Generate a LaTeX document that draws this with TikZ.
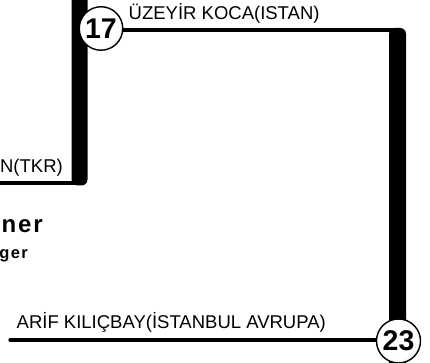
\documentclass[tikz,border=0pt]{standalone}
\usepackage{fontspec}
\setmainfont{Liberation Sans}
\pgfdeclareradialshading{btnshade}{\pgfpoint{-9bp}{9bp}}{color(0bp)=(white); color(26bp)=(white); color(46bp)=(gray!55); color(64bp)=(gray!85)}
\begin{document}
\begin{tikzpicture}[x=1pt,y=-1pt,
  thinline/.style={line width=3.3pt, line cap=round},
  barfill/.style={fill=black, rounded corners=6pt},
  ball/.style={circle, draw=black, line width=1.4pt, shading=btnshade,
    inner sep=0pt, font=\fontsize{28.5}{28.5}\selectfont\bfseries},
  lbl/.style={inner sep=0pt, font=\fontsize{18.5}{20}\selectfont},
  bigbold/.style={inner sep=0pt, font=\fontsize{24}{26}\selectfont\bfseries\addfontfeatures{LetterSpace=8}},
  smallbold/.style={inner sep=0pt, font=\fontsize{16.5}{18}\selectfont\bfseries\addfontfeatures{LetterSpace=8}}]
\useasboundingbox (0,0) rectangle (430,363);
\clip (0,0) rectangle (430,363);
% coordinates
\coordinate (lb) at (79.5,183);
\coordinate (ll) at (-10,183);
\coordinate (rt) at (397.5,30);
\coordinate (bl) at (10,340);
% bars
\fill[barfill] (71.5,-20) -- (71.5,185.5) -- (87.5,185.5) -- (87.5,-20) -- cycle;
\fill[barfill] (389,400) -- (389,28) -- (406,28) -- (406,400) -- cycle;
% circle positions
\path (101,28.5) coordinate (c17pos);
\path (398.5,341) coordinate (c23pos);
% thin lines
\draw[thinline] (ll) -- (lb);
\draw[thinline] (c17pos |- rt) -- (rt);
\draw[thinline] (bl) -- (bl -| c23pos);
% circles
\node[ball, minimum size=43.5pt] (c17) at (c17pos) {17};
\node[ball, minimum size=44pt] (c23) at (c23pos) {23};
% labels
\node[lbl, anchor=base west] (t17) at (128.5,19.5) {ÜZEYİR KOCA(ISTAN)};
\node[lbl, anchor=base west] (t23) at (16.5,328) {ARİF KILIÇBAY(İSTANBUL AVRUPA)};
\node[lbl, anchor=base east] (ttkr) at (63,172.5) {N(TKR)};
\node[bigbold, anchor=base east] (tner) at (43,232) {ner};
\node[smallbold, anchor=base east] (tger) at (28,258) {ger};
\end{tikzpicture}
\end{document}
